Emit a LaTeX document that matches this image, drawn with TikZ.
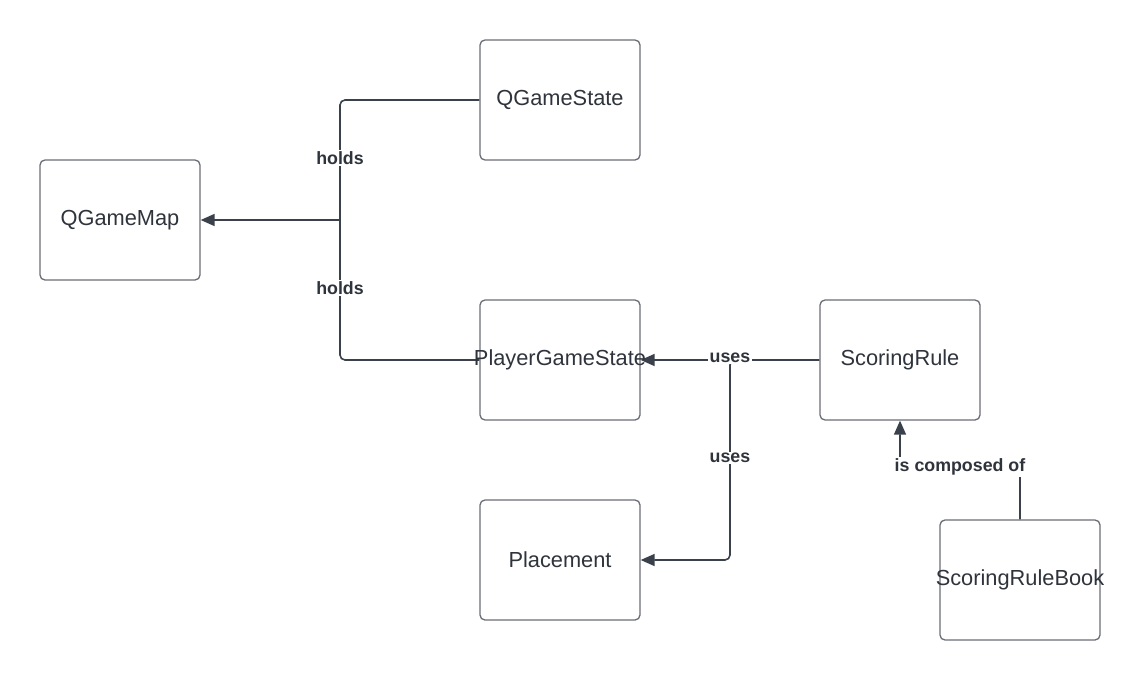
\documentclass[tikz,border=0pt]{standalone}
\usepackage{fontspec}
\setmainfont{Liberation Sans}
\usetikzlibrary{arrows.meta}
\definecolor{boxline}{HTML}{6A6E75}
\definecolor{conline}{HTML}{3B414B}
\definecolor{txt}{HTML}{2F343C}
\tikzset{
  box/.style={draw=boxline, line width=1.3pt, rounded corners=5pt, minimum width=160pt, minimum height=120pt, inner sep=0pt},
  boxtext/.style={text=txt, font=\fontsize{21.8}{24}\selectfont, inner sep=0pt},
  conn/.style={draw=conline, line width=1.6pt, rounded corners=5pt},
  tip/.style={-{Triangle[length=14pt,width=12pt]}},
  lab/.style={fill=white, text=txt, font=\fontsize{17.8}{20}\selectfont\bfseries, inner sep=1.5pt}
}
\begin{document}
\begin{tikzpicture}[x=1pt,y=-1pt]
\useasboundingbox (0,0) rectangle (1140,680);
\fill[white] (0,0) rectangle (1140,680);
% boxes
\node[box] (qgm) at (120,220) {};
\node[boxtext] at (qgm) {QGameMap};
\node[box] (qgs) at (560,100) {};
\node[boxtext] at (qgs) {QGameState};
\node[box] (pgs) at (560,360) {};
\node[box] (sr) at (900,360) {};
\node[boxtext] at (sr) {ScoringRule};
\node[box] (pl) at (560,560) {};
\node[boxtext] at (pl) {Placement};
\node[box] (srb) at (1020,580) {};
\node[boxtext] at (srb) {ScoringRuleBook};
% junction coordinates
\coordinate (j) at (340,220);
\coordinate (k) at (730,360);
\coordinate (m) at (900,467);
% connectors
\draw[conn] (qgs.west) -| (j);
\draw[conn] (pgs.west) -| (j);
\draw[conn, tip, rounded corners=0pt] (j) -- (qgm.east);
\draw[conn, tip] (sr.west) -- (pgs.east);
\draw[conn, tip] (srb.north) |- (m) -- (sr.south);
\draw[conn, tip] (sr.west) -- (k) |- (pl.east);
% text over box
\node[boxtext] at (pgs) {PlayerGameState};
% labels
\node[lab] (h1) at (340,158) {holds};
\node[lab] (h2) at (340,288) {holds};
\node[lab] (u1) at (730,358) {uses};
\node[lab] (u2) at (730,458) {uses};
\node[lab] (c1) at (960,467) {is composed of};
\end{tikzpicture}
\end{document}
